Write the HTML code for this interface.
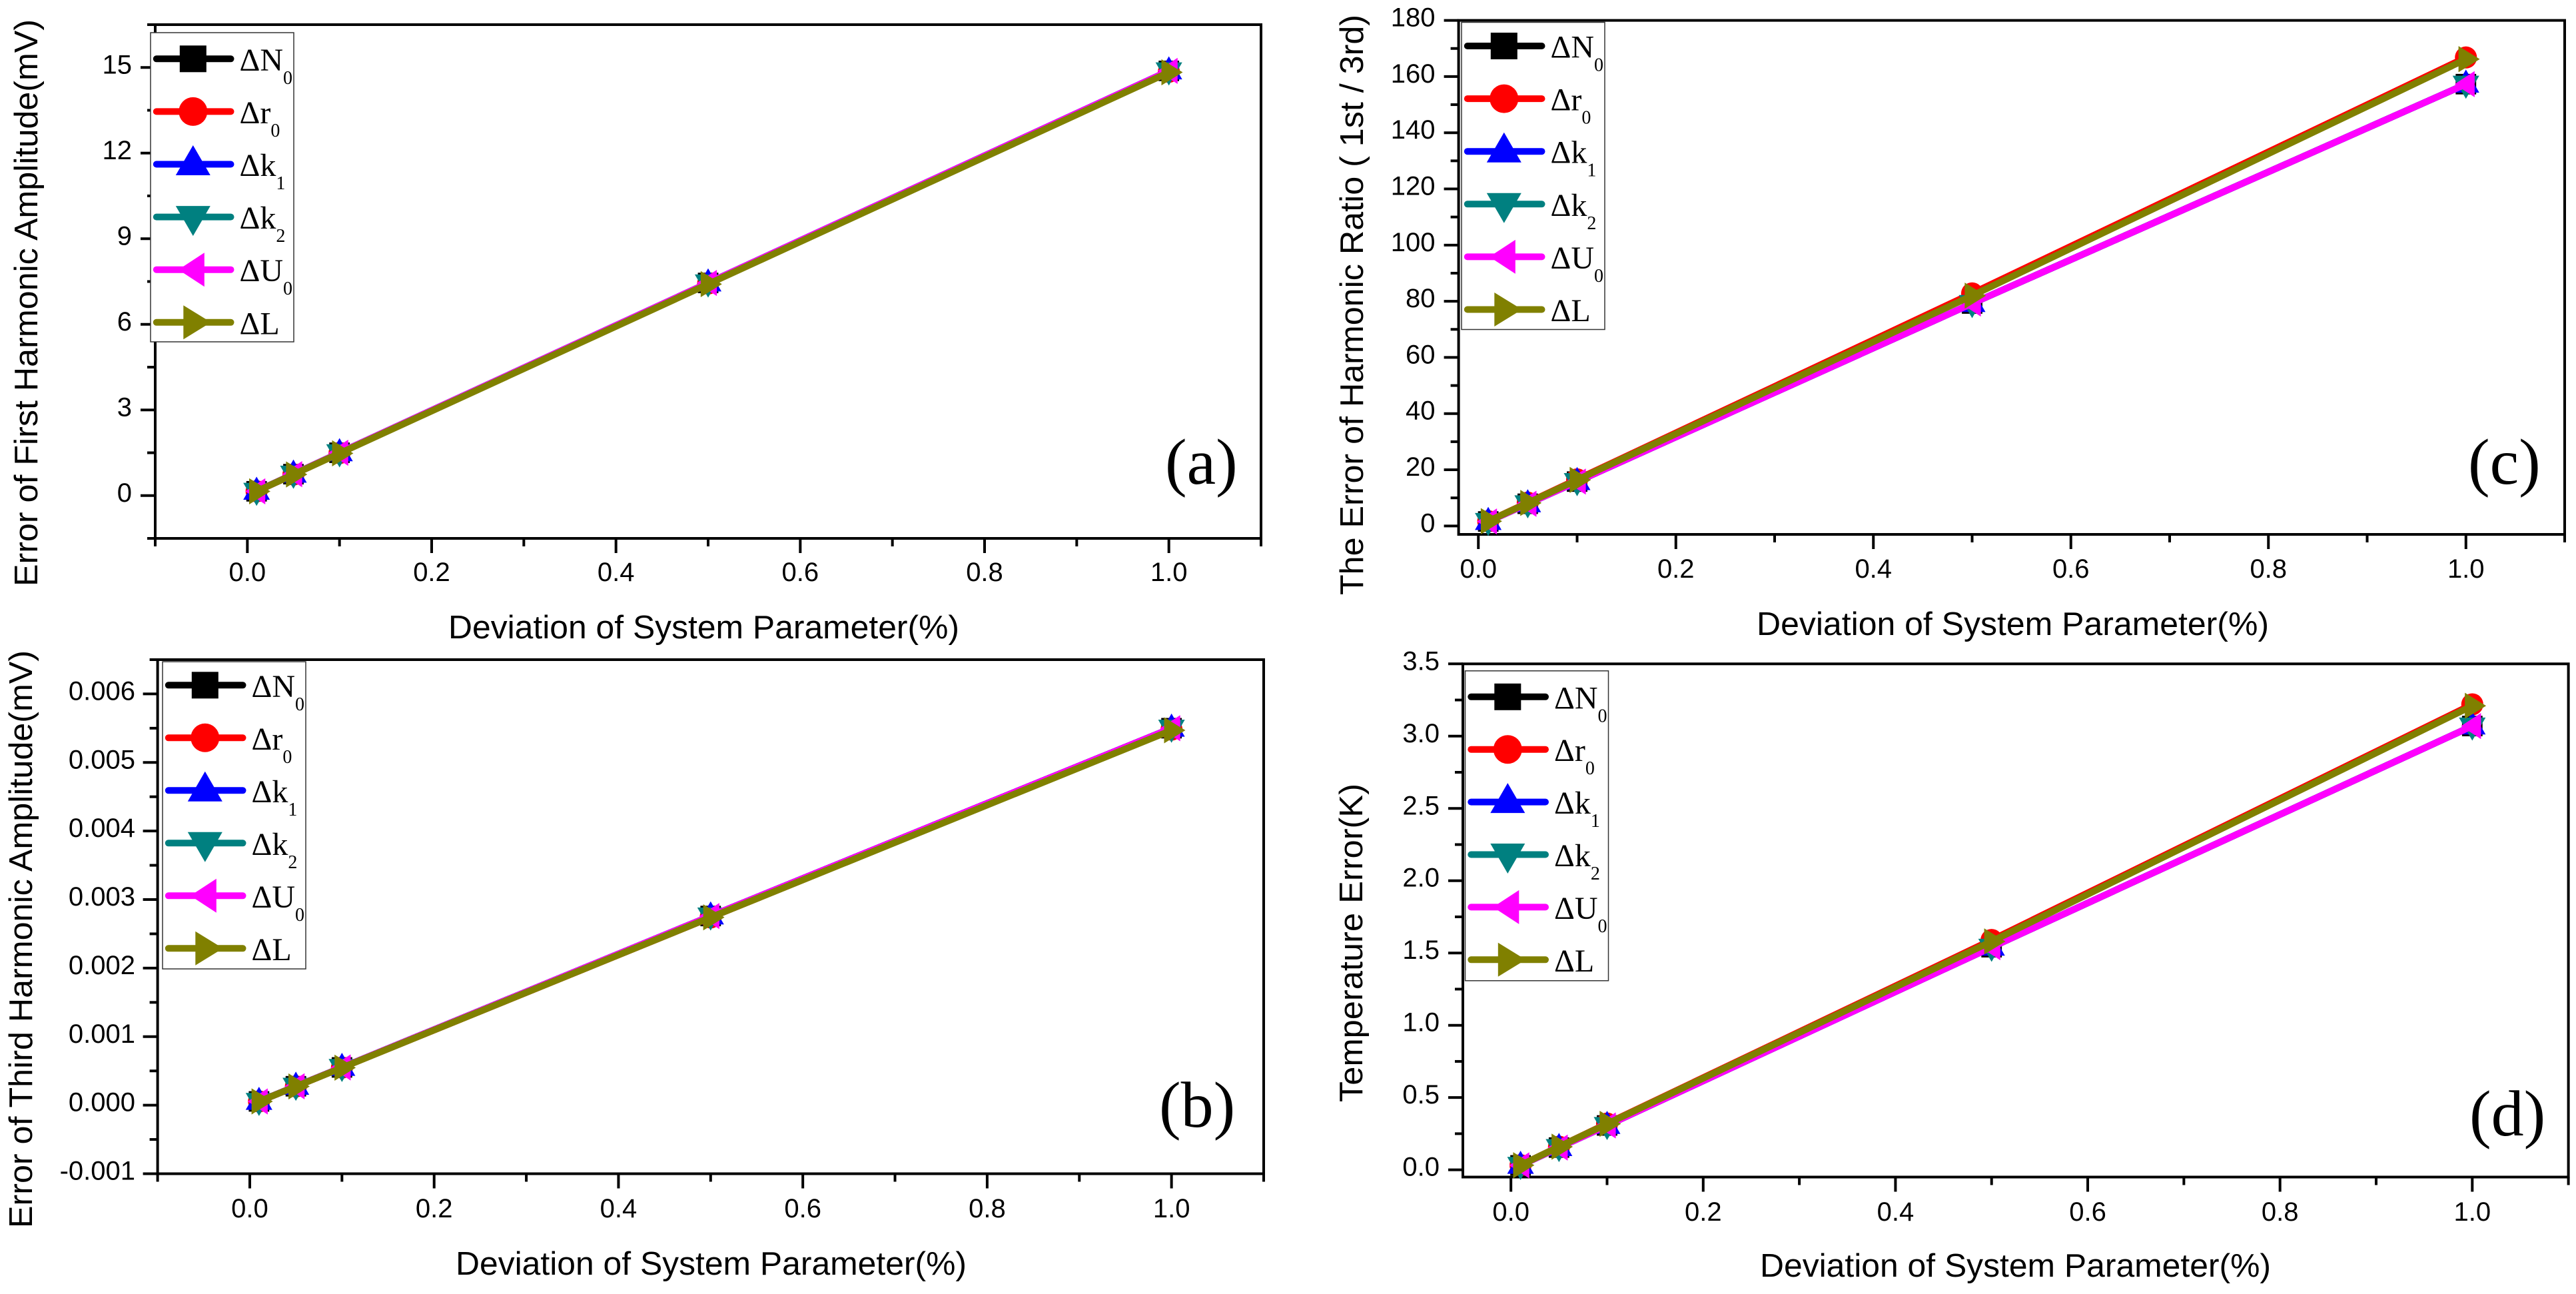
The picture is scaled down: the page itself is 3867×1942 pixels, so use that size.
<!DOCTYPE html>
<html lang="en">
<head>
<meta charset="utf-8">
<title>Parameter deviation error charts</title>
<style>
html,body{margin:0;padding:0;background:#fff;}
body{width:3867px;height:1942px;overflow:hidden;}
svg{display:block;}
.axis-title{font-family:"Liberation Sans",Arial,sans-serif;font-size:49px;fill:#000;}
.tick-label{font-family:"Liberation Sans",Arial,sans-serif;font-size:40px;fill:#000;}
.panel-label{font-family:"Liberation Serif","Times New Roman",serif;font-size:98px;fill:#000;}
.legend-text{font-family:"Liberation Serif","Times New Roman",serif;font-size:48px;fill:#000;}
</style>
</head>
<body>
<svg id="figure" xmlns="http://www.w3.org/2000/svg" width="3867" height="1942" viewBox="0 0 3867 1942">
  <rect x="0" y="0" width="3867" height="1942" fill="#fff"/>

  <g id="panel-a">
    <text class="axis-title" x="673" y="958" textLength="767" lengthAdjust="spacingAndGlyphs">Deviation of System Parameter(%)</text>
    <text class="axis-title" transform="translate(56,880) rotate(-90)" textLength="851" lengthAdjust="spacingAndGlyphs">Error of First Harmonic Amplitude(mV)</text>
    <text class="panel-label" x="1749" y="726">(a)</text>
  </g>

  <g id="panel-b">
    <text class="axis-title" x="684" y="1913" textLength="767" lengthAdjust="spacingAndGlyphs">Deviation of System Parameter(%)</text>
    <text class="axis-title" transform="translate(48,1843) rotate(-90)" textLength="867" lengthAdjust="spacingAndGlyphs">Error of Third Harmonic Amplitude(mV)</text>
    <text class="panel-label" x="1740" y="1691">(b)</text>
  </g>

  <g id="panel-c">
    <text class="axis-title" x="2637" y="953" textLength="769" lengthAdjust="spacingAndGlyphs">Deviation of System Parameter(%)</text>
    <text class="axis-title" transform="translate(2046,893) rotate(-90)" textLength="871" lengthAdjust="spacingAndGlyphs">The Error of Harmonic Ratio ( 1st / 3rd)</text>
    <text class="panel-label" x="3705" y="726">(c)</text>
  </g>

  <g id="panel-d">
    <text class="axis-title" x="2642" y="1916" textLength="767" lengthAdjust="spacingAndGlyphs">Deviation of System Parameter(%)</text>
    <text class="axis-title" transform="translate(2045,1654) rotate(-90)" textLength="478" lengthAdjust="spacingAndGlyphs">Temperature Error(K)</text>
    <text class="panel-label" x="3707" y="1704">(d)</text>
  </g>
</svg>

<script>
// Shared category values and tick labels
const deviationValues = [0.01, 0.05, 0.1, 0.5, 1.0];
const xTickLabels = ['0.0', '0.2', '0.4', '0.6', '0.8', '1.0'];

// Panel (a): Error of first harmonic amplitude
const aTickLabels = ['0', '3', '6', '9', '12', '15'];
const aN0 = [0.15, 0.75, 1.50, 7.45, 14.88];
const aR0 = [0.15, 0.74, 1.49, 7.43, 14.85];
const aK1 = [0.15, 0.75, 1.50, 7.45, 14.88];
const aK2 = [0.15, 0.75, 1.50, 7.45, 14.88];
const aU0 = [0.15, 0.75, 1.50, 7.45, 14.88];
const aL = [0.15, 0.74, 1.48, 7.41, 14.83];

// Panel (b): Error of third harmonic amplitude
const bTickLabels = ['-0.001', '0.000', '0.001', '0.002', '0.003', '0.004', '0.005', '0.006'];
const bN0 = [0.000055, 0.000276, 0.000551, 0.00276, 0.00550];
const bR0 = [0.000055, 0.000274, 0.000548, 0.00274, 0.00548];
const bK1 = [0.000055, 0.000276, 0.000551, 0.00276, 0.00550];
const bK2 = [0.000055, 0.000276, 0.000551, 0.00276, 0.00550];
const bU0 = [0.000055, 0.000276, 0.000551, 0.00276, 0.00550];
const bL = [0.000055, 0.000274, 0.000547, 0.00274, 0.00547];

// Panel (c): Error of harmonic ratio
const cTickLabels = ['0', '20', '40', '60', '80', '100', '120', '140', '160', '180'];
const cN0 = [1.6, 7.9, 15.8, 79.2, 157.3];
const cR0 = [1.7, 8.3, 16.6, 82.8, 166.8];
const cK1 = [1.6, 7.9, 15.8, 79.2, 157.3];
const cK2 = [1.6, 7.9, 15.8, 79.2, 157.3];
const cU0 = [1.6, 7.9, 15.8, 79.2, 157.3];
const cL = [1.7, 8.2, 16.4, 82.0, 166.2];

// Panel (d): Temperature error
const dTickLabels = ['0.0', '0.5', '1.0', '1.5', '2.0', '2.5', '3.0', '3.5'];
const dN0 = [0.031, 0.154, 0.307, 1.54, 3.07];
const dR0 = [0.032, 0.160, 0.320, 1.59, 3.22];
const dK1 = [0.031, 0.154, 0.307, 1.54, 3.07];
const dK2 = [0.031, 0.154, 0.307, 1.54, 3.07];
const dU0 = [0.031, 0.154, 0.307, 1.54, 3.07];
const dL = [0.032, 0.160, 0.318, 1.58, 3.21];

// Series identity
const seriesBase = ['N', 'r', 'k', 'k', 'U', 'L'];
const seriesSub = ['0', '0', '1', '2', '0', ''];
const seriesColors = ['#000000', '#ff0000', '#0000ff', '#008080', '#ff00ff', '#808000'];
const seriesShapes = ['square', 'circle', 'up', 'down', 'left', 'right'];

const NS = 'http://www.w3.org/2000/svg';

function node(tag, attrs, parent) {
  const el = document.createElementNS(NS, tag);
  for (const k in attrs) el.setAttribute(k, attrs[k]);
  parent.appendChild(el);
  return el;
}

function drawMarker(parent, shape, cx, cy, s, color, label) {
  let el;
  if (shape === 'square') {
    el = node('rect', {x: cx - 20 * s, y: cy - 20 * s, width: 40 * s, height: 40 * s, fill: color}, parent);
  } else if (shape === 'circle') {
    el = node('circle', {cx: cx, cy: cy, r: 21.5 * s, fill: color}, parent);
  } else {
    let p;
    if (shape === 'up') p = [[0, -28.5], [-26, 16.5], [26, 16.5]];
    if (shape === 'down') p = [[0, 28.5], [-26, -16.5], [26, -16.5]];
    if (shape === 'left') p = [[-22, 0], [17, -25.5], [17, 25.5]];
    if (shape === 'right') p = [[27, 0], [-14.5, -25.5], [-14.5, 25.5]];
    el = node('polygon', {points: p.map(q => (cx + q[0] * s) + ',' + (cy + q[1] * s)).join(' '), fill: color}, parent);
  }
  
  
}

function drawPanel(cfg) {
  const root = document.getElementById(cfg.id);
  const sx = v => cfg.left + (v - cfg.xMin) / (cfg.xMax - cfg.xMin) * (cfg.right - cfg.left);
  const sy = v => cfg.bottom - (v - cfg.yMin) / (cfg.yMax - cfg.yMin) * (cfg.bottom - cfg.top);

  const axes = node('g', {}, root);
  
  

  const frame = node('rect', {x: cfg.left, y: cfg.top, width: cfg.right - cfg.left, height: cfg.bottom - cfg.top, fill: 'none', stroke: '#000', 'stroke-width': 4}, axes);
  
  

  // X ticks
  const xMajors = cfg.xLabels.map(parseFloat);
  const xStep = xMajors[1] - xMajors[0];
  for (let i = -1; i < xMajors.length; i++) {
    const minorValue = xMajors[0] + xStep * (i + 0.5);
    if (minorValue >= cfg.xMin - 1e-9 && minorValue <= cfg.xMax + 1e-9) {
      const mt = node('line', {x1: sx(minorValue), x2: sx(minorValue), y1: cfg.bottom, y2: cfg.bottom + 12, stroke: '#000', 'stroke-width': 4}, axes);
      
      
    }
  }
  cfg.xLabels.forEach(function (lab, i) {
    const t = node('line', {x1: sx(xMajors[i]), x2: sx(xMajors[i]), y1: cfg.bottom, y2: cfg.bottom + 22, stroke: '#000', 'stroke-width': 4}, axes);
    
    
    const tx = node('text', {x: sx(xMajors[i]), y: cfg.xLabelBase, 'text-anchor': 'middle', class: 'tick-label'}, axes);
    tx.textContent = lab;
    
    
  });

  // Y ticks
  const yMajors = cfg.yLabels.map(parseFloat);
  const yStep = yMajors[1] - yMajors[0];
  for (let i = -1; i < yMajors.length; i++) {
    const minorValue = yMajors[0] + yStep * (i + 0.5);
    if (minorValue >= cfg.yMin - 1e-9 && minorValue <= cfg.yMax + 1e-9) {
      const mt = node('line', {x1: cfg.left, x2: cfg.left - 12, y1: sy(minorValue), y2: sy(minorValue), stroke: '#000', 'stroke-width': 4}, axes);
      
      
    }
  }
  cfg.yLabels.forEach(function (lab, i) {
    const t = node('line', {x1: cfg.left, x2: cfg.left - 22, y1: sy(yMajors[i]), y2: sy(yMajors[i]), stroke: '#000', 'stroke-width': 4}, axes);
    
    
    const tx = node('text', {x: cfg.yLabelRight, y: sy(yMajors[i]) + 9, 'text-anchor': 'end', class: 'tick-label'}, axes);
    tx.textContent = lab;
    
    
  });

  // Series: each drawn line + markers from the data arrays
  cfg.series.forEach(function (vals, si) {
    const g = node('g', {}, root);
    
    
    const pts = vals.map((v, i) => sx(deviationValues[i]) + ',' + sy(v)).join(' ');
    const pl = node('polyline', {points: pts, fill: 'none', stroke: seriesColors[si], 'stroke-width': 10, 'stroke-linejoin': 'round', 'stroke-linecap': 'round'}, g);
    
    
    vals.forEach(function (v, i) {
      drawMarker(g, seriesShapes[si], sx(deviationValues[i]), sy(v), 0.77, seriesColors[si], 'data-point');
    });
  });

  // Legend
  const lg = node('g', {}, root);
  
  
  const box = node('rect', {x: cfg.legLeft + 0.5, y: cfg.legTop + 0.5, width: cfg.legWidth, height: cfg.legHeight, fill: '#fff', stroke: '#333', 'stroke-width': 1.5}, lg);
  
  
  seriesBase.forEach(function (base, si) {
    const y = cfg.legFirst + si * cfg.legGap;
    const e = node('g', {}, lg);
    
    
    const ln = node('line', {x1: cfg.legLeft + 9.3, x2: cfg.legLeft + 121, y1: y, y2: y, stroke: seriesColors[si], 'stroke-width': 10, 'stroke-linecap': 'round'}, e);
    
    
    drawMarker(e, seriesShapes[si], cfg.legLeft + 64.3, y, 1, seriesColors[si], 'legend-marker');
    const tx = node('text', {x: cfg.legLeft + 134, y: y + 17.5, class: 'legend-text'}, e);
    
    
    tx.appendChild(document.createTextNode('\u0394' + base));
    if (seriesSub[si]) {
      const sub = node('tspan', {dy: 20, 'font-size': 28}, tx);
      sub.textContent = seriesSub[si];
    }
  });
}

drawPanel({id: 'panel-a', left: 233, right: 1893, top: 37, bottom: 808, xMin: -0.1, xMax: 1.1, yMin: -1.5, yMax: 16.5,
  xLabels: xTickLabels, yLabels: aTickLabels, xLabelBase: 872, yLabelRight: 198,
  series: [aN0, aR0, aK1, aK2, aU0, aL],
  legLeft: 225.5, legTop: 48.5, legWidth: 215, legHeight: 464, legFirst: 88.3, legGap: 79.1});

drawPanel({id: 'panel-b', left: 236.6, right: 1897, top: 990, bottom: 1761.5, xMin: -0.1, xMax: 1.1, yMin: -0.001, yMax: 0.0065,
  xLabels: xTickLabels, yLabels: bTickLabels, xLabelBase: 1827, yLabelRight: 203,
  series: [bN0, bR0, bK1, bK2, bU0, bL],
  legLeft: 243.5, legTop: 992.6, legWidth: 215, legHeight: 461, legFirst: 1028.3, legGap: 79});

drawPanel({id: 'panel-c', left: 2189.6, right: 3850, top: 30.6, bottom: 802, xMin: -0.02, xMax: 1.1, yMin: -3, yMax: 180,
  xLabels: xTickLabels, yLabels: cTickLabels, xLabelBase: 867, yLabelRight: 2154.5,
  series: [cN0, cR0, cK1, cK2, cU0, cL],
  legLeft: 2193.5, legTop: 33, legWidth: 215, legHeight: 461, legFirst: 69, legGap: 79.1});

drawPanel({id: 'panel-d', left: 2196, right: 3855.6, top: 996.3, bottom: 1766.5, xMin: -0.05, xMax: 1.1, yMin: -0.05, yMax: 3.5,
  xLabels: xTickLabels, yLabels: dTickLabels, xLabelBase: 1832, yLabelRight: 2161,
  series: [dN0, dR0, dK1, dK2, dU0, dL],
  legLeft: 2199, legTop: 1006.3, legWidth: 215, legHeight: 465, legFirst: 1045.8, legGap: 78.9});
</script>
</body>
</html>
